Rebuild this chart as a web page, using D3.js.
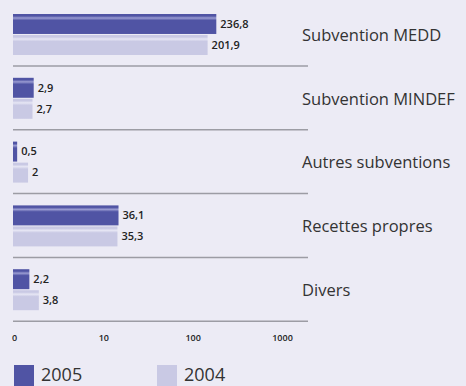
<!DOCTYPE html>
<html>
<head>
<meta charset="utf-8">
<script src="https://cdn.jsdelivr.net/npm/d3@7/dist/d3.min.js"></script>
<style>
  html, body { margin: 0; padding: 0; background: #ecebf5; }
  svg { display: block; }
</style>
</head>
<body>
<svg id="chart" width="466" height="386"></svg>
<script>
// Budget lines (millions) for two years
const categories = ["Subvention MEDD", "Subvention MINDEF", "Autres subventions", "Recettes propres", "Divers"];
const years = ["2005", "2004"];
const values2005 = [236.8, 2.9, 0.5, 36.1, 2.2];
const values2004 = [201.9, 2.7, 2, 35.3, 3.8];
const valueLabels2005 = ["236,8", "2,9", "0,5", "36,1", "2,2"];
const valueLabels2004 = ["201,9", "2,7", "2", "35,3", "3,8"];
const tickLabels = ["0", "10", "100", "1000"];

const colors = { "2005": "#5054a4", "2004": "#c9c9e4" };
const highlight = { "2005": "#9a9cd2", "2004": "#e6e6f4" };

const svg = d3.select("#chart");
const W = 466, H = 386;

svg.append("rect").attr("width", W).attr("height", H).attr("fill", "#ecebf5");

// Glossy vertical gradient for each series
const defs = svg.append("defs");
years.forEach(yr => {
  const g = defs.append("linearGradient")
    .attr("id", "grad" + yr).attr("x1", 0).attr("y1", 0).attr("x2", 0).attr("y2", 1);
  g.append("stop").attr("offset", "0%").attr("stop-color", colors[yr]);
  g.append("stop").attr("offset", "10%").attr("stop-color", colors[yr]);
  g.append("stop").attr("offset", "20%").attr("stop-color", highlight[yr]);
  g.append("stop").attr("offset", "32%").attr("stop-color", colors[yr]);
  g.append("stop").attr("offset", "100%").attr("stop-color", colors[yr]);
});

const x = d3.scaleSymlog().constant(6.5).domain([0, 1000]).range([13, 296]);

const y = d3.scaleBand().domain(categories).range([14, 14 + 63.8 * categories.length]);
const yInner = d3.scaleBand().domain(years).range([0, 41]).paddingInner(0.05);

const rows = categories.map((c, i) => ({
  cat: c,
  bars: [
    { year: "2005", v: values2005[i], label: valueLabels2005[i] },
    { year: "2004", v: values2004[i], label: valueLabels2004[i] }
  ]
}));

const groups = svg.selectAll("g.row").data(rows).join("g")
  .attr("class", "row")
  .attr("transform", d => `translate(0,${y(d.cat)})`);

groups.selectAll("rect.bar").data(d => d.bars).join("rect")
  .attr("class", "bar")
  .attr("x", x(0))
  .attr("y", d => yInner(d.year))
  .attr("width", d => Math.max(1.2, x(d.v) - x(0)))
  .attr("height", yInner.bandwidth())
  .attr("fill", d => `url(#grad${d.year})`);

groups.selectAll("text.val").data(d => d.bars).join("text")
  .attr("class", "val")
  .attr("x", d => Math.max(x(0) + 1.2, x(d.v)) + 4)
  .attr("y", d => yInner(d.year) + yInner.bandwidth() / 2)
  .attr("dy", "0.35em")
  .attr("font-family", "Open Sans, sans-serif")
  .attr("font-size", 11)
  .attr("font-weight", 600)
  .attr("fill", "#222")
  .text(d => d.label);

// Row separators
groups.append("line")
  .attr("x1", 13).attr("x2", 308)
  .attr("y1", 52).attr("y2", 52)
  .attr("stroke", "#9c9ca4").attr("stroke-width", 1.5);

// Category names
groups.append("text")
  .attr("x", 302)
  .attr("y", 21)
  .attr("dy", "0.35em")
  .attr("font-family", "Open Sans, sans-serif")
  .attr("font-size", 16.5)
  .attr("fill", "#333")
  .text(d => d.cat);

// Axis tick labels
const xTicks = d3.scalePoint().domain(tickLabels).range([14, 282]);
const axis = svg.append("g")
  .attr("transform", "translate(0,335)")
  .call(d3.axisBottom(xTicks).tickSize(0).tickPadding(0));
axis.select(".domain").remove();
axis.selectAll("text")
  .attr("font-family", "Open Sans, sans-serif")
  .attr("font-size", 9)
  .attr("font-weight", 600)
  .attr("fill", "#222");

// Legend
const legend = svg.append("g").selectAll("g").data(years).join("g")
  .attr("transform", (d, i) => `translate(${14 + i * 143},365)`);
legend.append("rect")
  .attr("width", 20).attr("height", 22)
  .attr("fill", d => colors[d]);
legend.append("text")
  .attr("x", 27).attr("y", 16)
  .attr("font-family", "Open Sans, sans-serif")
  .attr("font-size", 18)
  .attr("fill", "#333")
  .text(d => d);
</script>
</body>
</html>
